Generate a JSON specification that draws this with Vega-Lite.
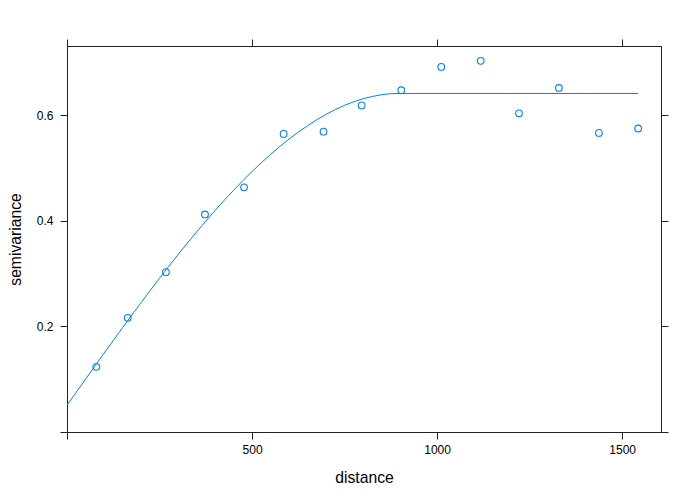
{
  "$schema": "https://vega.github.io/schema/vega-lite/v6.json",
  "width": 594,
  "height": 386,
  "autosize": {"type": "none"},
  "padding": {"left": 67, "top": 46, "right": 39, "bottom": 68},
  "background": "white",
  "config": {
    "font": "Liberation Sans",
    "view": {"stroke": "#222222", "strokeWidth": 1},
    "axis": {
      "domain": false,
      "grid": false,
      "tickColor": "#222222",
      "tickSize": 7,
      "labelFont": "Liberation Sans",
      "labelFontSize": 12,
      "labelColor": "black",
      "titleFont": "Liberation Sans",
      "titleFontSize": 15.7,
      "titleFontWeight": "normal",
      "titleColor": "black"
    }
  },
  "datasets": {
    "points": [
      {"dist": 79.29, "gamma": 0.1234},
      {"dist": 163.97, "gamma": 0.2162},
      {"dist": 267.36, "gamma": 0.3028},
      {"dist": 372.74, "gamma": 0.4121},
      {"dist": 478.48, "gamma": 0.4634},
      {"dist": 585.34, "gamma": 0.5647},
      {"dist": 693.15, "gamma": 0.5690},
      {"dist": 796.18, "gamma": 0.6187},
      {"dist": 903.15, "gamma": 0.6474},
      {"dist": 1011.29, "gamma": 0.6916},
      {"dist": 1117.86, "gamma": 0.7031},
      {"dist": 1221.33, "gamma": 0.6037},
      {"dist": 1329.16, "gamma": 0.6517},
      {"dist": 1437.26, "gamma": 0.5666},
      {"dist": 1543.2, "gamma": 0.5749}
    ],
    "model": [
      {"dist": 0, "gamma": 0.0507},
      {"dist": 50, "gamma": 0.1000},
      {"dist": 100, "gamma": 0.1491},
      {"dist": 150, "gamma": 0.1975},
      {"dist": 200, "gamma": 0.2450},
      {"dist": 250, "gamma": 0.2912},
      {"dist": 300, "gamma": 0.3359},
      {"dist": 350, "gamma": 0.3788},
      {"dist": 400, "gamma": 0.4196},
      {"dist": 450, "gamma": 0.4579},
      {"dist": 500, "gamma": 0.4934},
      {"dist": 550, "gamma": 0.5258},
      {"dist": 600, "gamma": 0.5549},
      {"dist": 650, "gamma": 0.5803},
      {"dist": 700, "gamma": 0.6017},
      {"dist": 750, "gamma": 0.6188},
      {"dist": 800, "gamma": 0.6313},
      {"dist": 825, "gamma": 0.6356},
      {"dist": 850, "gamma": 0.6389},
      {"dist": 875, "gamma": 0.6408},
      {"dist": 897, "gamma": 0.6413},
      {"dist": 1000, "gamma": 0.6413},
      {"dist": 1200, "gamma": 0.6413},
      {"dist": 1400, "gamma": 0.6413},
      {"dist": 1543.2, "gamma": 0.6413}
    ]
  },
  "layer": [
    {
      "data": {"name": "model"},
      "mark": {"type": "line", "color": "#0080ff", "strokeWidth": 1, "clip": true, "interpolate": "monotone"},
      "encoding": {
        "x": {
          "field": "dist", "type": "quantitative",
          "scale": {"domain": [0, 1605], "nice": false, "zero": false},
          "axis": {"orient": "bottom", "title": "distance", "values": [0, 500, 1000, 1500], "format": "d",
                   "labelExpr": "datum.value == 0 ? '' : datum.label", "labelPadding": 5, "titlePadding": 15}
        },
        "y": {
          "field": "gamma", "type": "quantitative",
          "scale": {"domain": [0, 0.7312], "nice": false, "zero": false},
          "axis": {"orient": "left", "title": "semivariance", "values": [0, 0.2, 0.4, 0.6], "format": ".1f",
                   "labelExpr": "datum.value == 0 ? '' : datum.label", "labelPadding": 7, "titlePadding": 13}
        }
      }
    },
    {
      "data": {"name": "points"},
      "mark": {"type": "point", "shape": "circle", "filled": false, "color": "#0080ff", "size": 45, "strokeWidth": 1.1, "opacity": 1},
      "encoding": {
        "x": {
          "field": "dist", "type": "quantitative",
          "scale": {"domain": [0, 1605], "nice": false, "zero": false},
          "axis": {"orient": "top", "title": null, "values": [0, 500, 1000, 1500], "labels": false}
        },
        "y": {
          "field": "gamma", "type": "quantitative",
          "scale": {"domain": [0, 0.7312], "nice": false, "zero": false},
          "axis": {"orient": "right", "title": null, "values": [0, 0.2, 0.4, 0.6], "labels": false}
        }
      }
    }
  ],
  "resolve": {"axis": {"x": "independent", "y": "independent"}}
}
